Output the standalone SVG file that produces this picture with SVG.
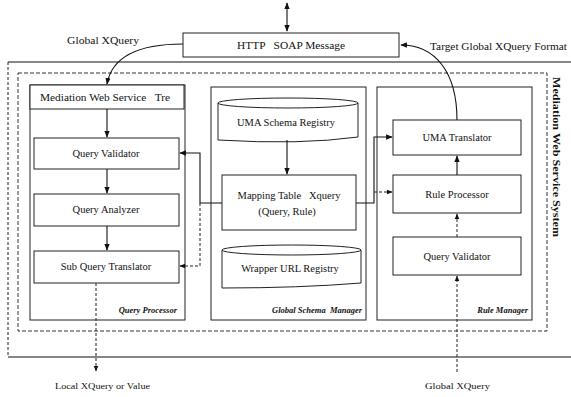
<svg xmlns="http://www.w3.org/2000/svg" width="571" height="397" viewBox="0 0 571 397">
<style>
.box{fill:#fff;stroke:#222;stroke-width:1}
.grp{fill:none;stroke:#222;stroke-width:1}
.dash{fill:none;stroke:#333;stroke-width:1;stroke-dasharray:4 2}
.ln{fill:none;stroke:#111;stroke-width:1.1}
.dl{fill:none;stroke:#222;stroke-width:1;stroke-dasharray:3 2}
text{font-family:"Liberation Serif","Times New Roman",serif;fill:#111;white-space:pre}
.t{font-size:10.5px;text-anchor:middle}
.lab{font-size:8.5px;font-weight:bold;font-style:italic;text-anchor:end}
</style>
<defs>
<marker id="ah" viewBox="0 0 10 10" refX="9" refY="5" markerWidth="6" markerHeight="6" orient="auto-start-reverse">
<path d="M0,1 L10,5 L0,9 z" fill="#111"/>
</marker>
</defs>

<!-- frames -->
<g id="frames">
<line class="ln" x1="8" y1="62" x2="571" y2="62"/>
<line class="dl" x1="8" y1="62" x2="8" y2="357"/>
<line class="ln" x1="8" y1="357" x2="571" y2="357"/>
<rect class="dash" x="18" y="73" width="529" height="258"/>
<text x="553" y="77" font-size="11" font-weight="bold" transform="rotate(90 553 77)" textLength="160" lengthAdjust="spacingAndGlyphs">Mediation Web Service System</text>
</g>

<g id="http">
<rect class="box" x="183" y="33" width="216" height="24"/>
<text x="291" y="49" font-size="11" text-anchor="middle" xml:space="preserve" textLength="108" lengthAdjust="spacingAndGlyphs">HTTP   SOAP Message</text>
</g>

<g id="query-processor">
<rect class="grp" x="30" y="85" width="155" height="235"/>
<text class="lab" x="177" y="313">Query Processor</text>
</g>
<g id="mws-tre">
<rect class="box" x="30" y="85" width="154" height="24"/>
<text x="40" y="101" font-size="10.5" xml:space="preserve" textLength="130" lengthAdjust="spacingAndGlyphs">Mediation Web Service   Tre</text>
</g>
<g id="qv-left">
<rect class="box" x="34" y="138" width="145" height="31"/>
<text class="t" x="106" y="157">Query Validator</text>
</g>
<g id="qa">
<rect class="box" x="34" y="194" width="145" height="32"/>
<text class="t" x="106" y="213">Query Analyzer</text>
</g>
<g id="sqt">
<rect class="box" x="34" y="251" width="145" height="32"/>
<text class="t" x="106" y="270">Sub Query Translator</text>
</g>

<g id="global-schema-manager">
<rect class="grp" x="211" y="87" width="155" height="233"/>
<text class="lab" x="362" y="313" xml:space="preserve">Global Schema  Manager</text>
</g>
<g id="uma-schema">
<path class="box" d="M218,103 A70,5 0 0 1 358,103 L358,137 Q300,145 218,140 Z"/>
<path class="grp" d="M218,103 A70,5 0 0 0 358,103"/>
<text class="t" x="286" y="126">UMA Schema Registry</text>
</g>
<g id="mapping">
<rect class="box" x="222" y="175" width="134" height="55"/>
<text class="t" x="289" y="199" xml:space="preserve">Mapping Table   Xquery</text>
<text class="t" x="287" y="215">(Query, Rule)</text>
</g>
<g id="wrapper">
<path class="box" d="M222,250 A69.5,5 0 0 1 361,250 L361,283 Q300,288 222,288 Z"/>
<path class="grp" d="M222,250 A69.5,5 0 0 0 361,250"/>
<text class="t" x="290" y="272">Wrapper URL Registry</text>
</g>

<g id="rule-manager">
<rect class="grp" x="377" y="87" width="155" height="233"/>
<text class="lab" x="528" y="313">Rule Manager</text>
</g>
<g id="uma-translator">
<rect class="box" x="393" y="120" width="128" height="35"/>
<text class="t" x="457" y="141">UMA Translator</text>
</g>
<g id="rule-processor">
<rect class="box" x="393" y="175" width="128" height="38"/>
<text class="t" x="457" y="198">Rule Processor</text>
</g>
<g id="qv-right">
<rect class="box" x="393" y="237" width="128" height="38"/>
<text class="t" x="457" y="260">Query Validator</text>
</g>

<g id="labels">
<text x="67" y="44" font-size="10.5" textLength="72" lengthAdjust="spacingAndGlyphs">Global XQuery</text>
<text x="430" y="50" font-size="10.5" textLength="137" lengthAdjust="spacingAndGlyphs">Target Global XQuery Format</text>
<text x="55" y="389" font-size="8.5" textLength="95" lengthAdjust="spacingAndGlyphs">Local XQuery or Value</text>
<text x="425" y="389" font-size="8.5" textLength="65" lengthAdjust="spacingAndGlyphs">Global XQuery</text>
</g>

<g id="connectors">
<line class="ln" x1="287" y1="3" x2="287" y2="31" marker-start="url(#ah)" marker-end="url(#ah)"/>
<path class="ln" d="M183,44 C140,44 112,56 107,84" marker-end="url(#ah)"/>
<path class="ln" d="M457,120 C457,72 435,45 401,45" marker-end="url(#ah)"/>
<line class="ln" x1="107" y1="109" x2="107" y2="137" marker-end="url(#ah)"/>
<line class="ln" x1="107" y1="169" x2="107" y2="193" marker-end="url(#ah)"/>
<line class="ln" x1="107" y1="226" x2="107" y2="250" marker-end="url(#ah)"/>
<line class="dl" x1="96" y1="283" x2="96" y2="371" marker-end="url(#ah)"/>
<line class="ln" x1="287" y1="140" x2="287" y2="174" marker-end="url(#ah)"/>
<polyline class="ln" points="222,203 200,203 200,153 180,153" marker-end="url(#ah)"/>
<polyline class="dl" points="200,203 200,266 180,266" marker-end="url(#ah)"/>
<polyline class="ln" points="356,203 374,203 374,137 392,137" marker-end="url(#ah)"/>
<line class="dl" x1="374" y1="192" x2="392" y2="192" marker-end="url(#ah)"/>
<line class="ln" x1="457" y1="175" x2="457" y2="156" marker-end="url(#ah)"/>
<line class="dl" x1="457" y1="237" x2="457" y2="214" marker-end="url(#ah)"/>
<line class="dl" x1="457" y1="372" x2="457" y2="276" marker-end="url(#ah)"/>
</g>
</svg>
